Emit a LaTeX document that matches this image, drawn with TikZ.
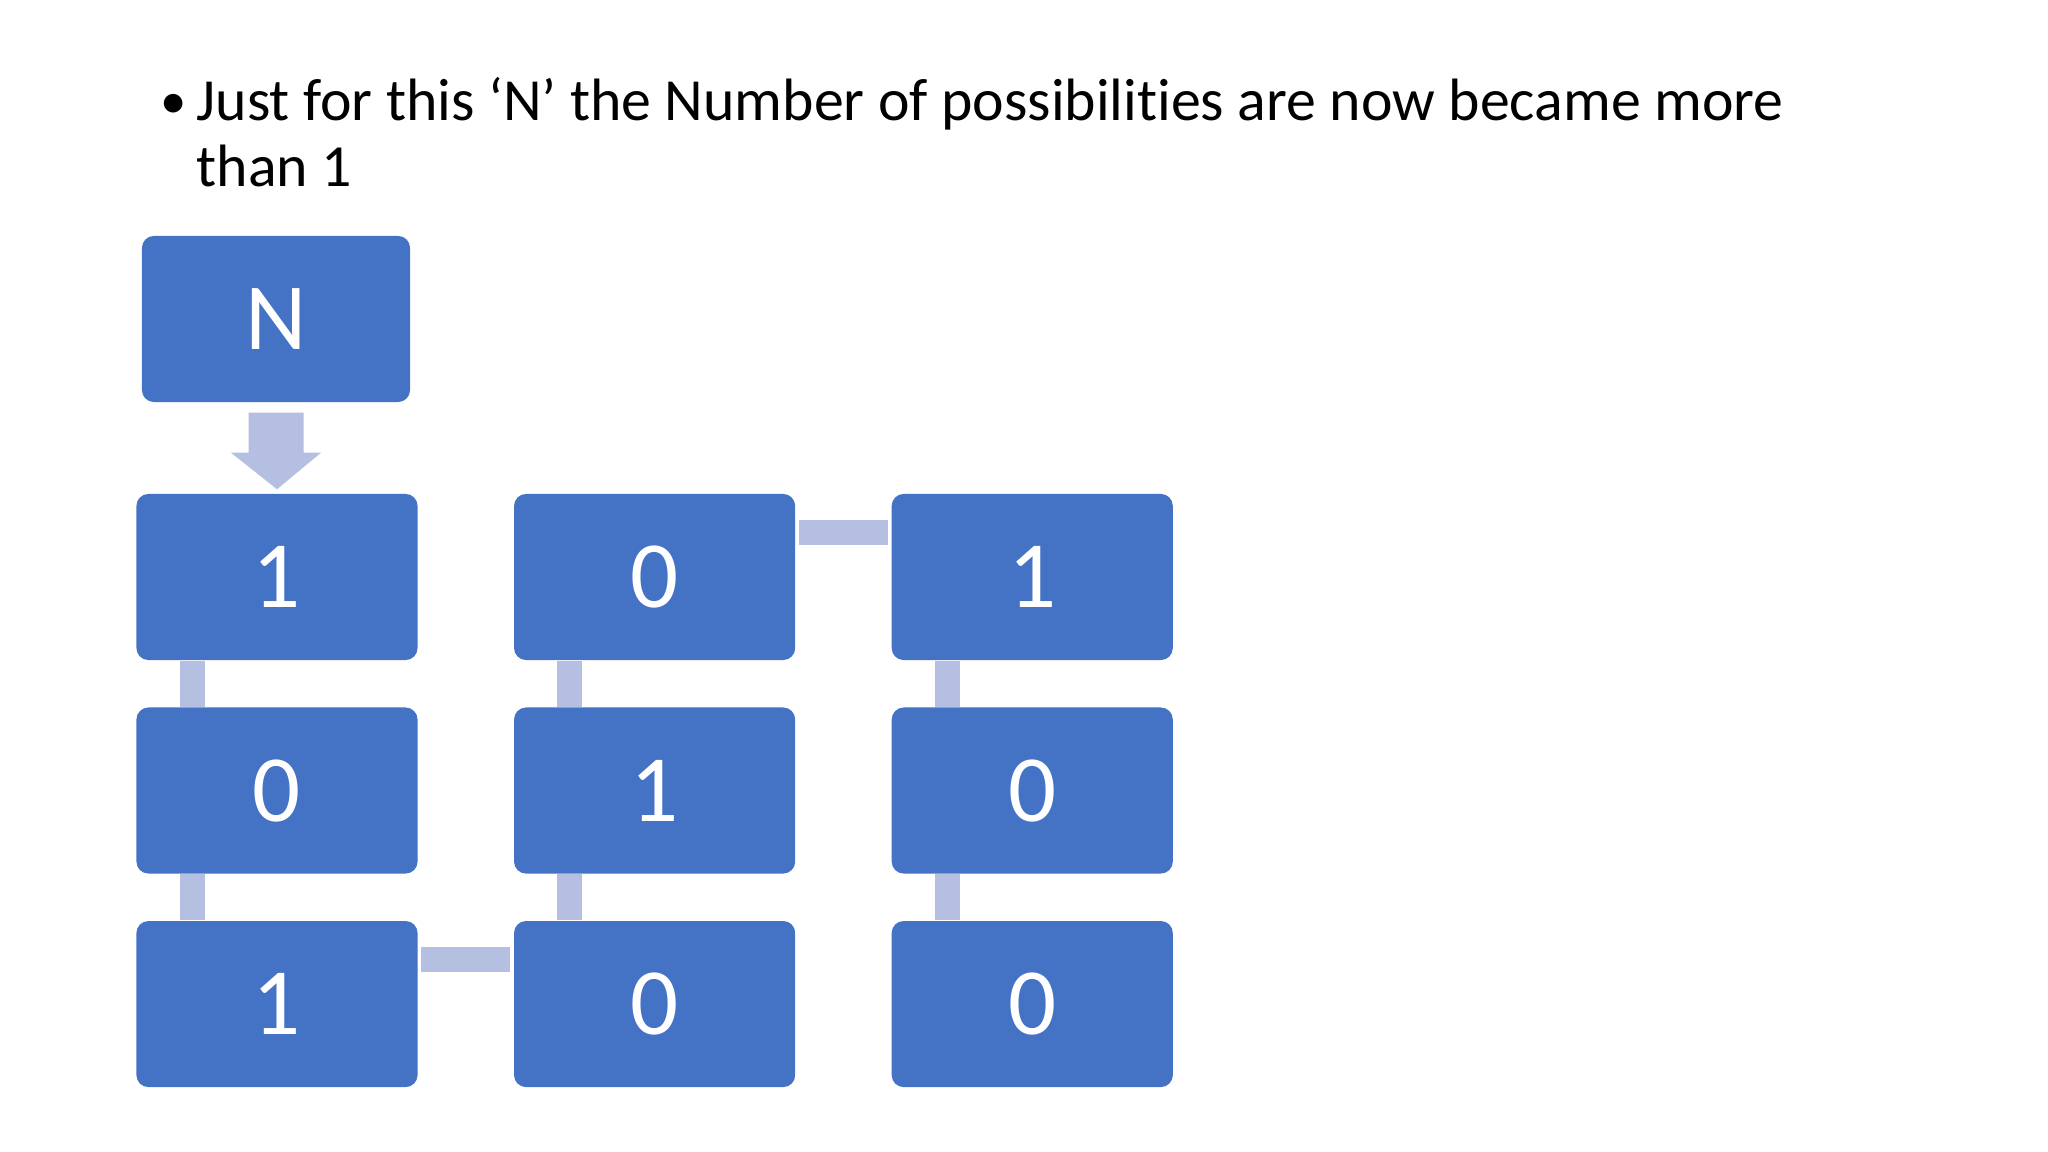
\documentclass[tikz,border=0pt]{standalone}
\usepackage{fontspec}
\setmainfont[Ligatures=NoCommon]{Carlito}
\usetikzlibrary{positioning,calc}
\definecolor{boxblue}{HTML}{4472C4}
\definecolor{linkblue}{HTML}{B4BFE1}
\tikzset{
% Blue digit boxes and the pale bars that join them
digit box/.style={rectangle,rounded corners=0.12cm,fill=boxblue,text=white,minimum width=2.81cm,minimum height=1.66cm,inner sep=0,font=\fontsize{27}{32}\selectfont},
link bar/.style={draw=linkblue,line width=0.25cm}
}

\begin{document}
\begin{tikzpicture}[x=0.01cm,y=-0.01cm]
\useasboundingbox (0,0) rectangle (2048,1152);
% Bullet line
\node(bullet)[anchor=base west,inner sep=0,font=\fontsize{15}{18.8}\selectfont] at (160,119) {\textbullet};
\node(title)[anchor=base west,align=left,inner sep=0,font=\fontsize{17}{18.8}\selectfont] at (196,187) {Just for this ‘N’ the Number of possibilities are now became more\\than 1};
% The boxes
\node(0)[digit box,minimum width=2.68cm] at (276,319) {N};
\node(1)[digit box] at (277,577) {1};
\node(2)[digit box,below=0.46cm of 1] {0};
\node(3)[digit box,below=0.46cm of 2] {1};
\node(4)[digit box,right=0.95cm of 1] {0};
\node(5)[digit box,below=0.46cm of 4] {1};
\node(6)[digit box,below=0.46cm of 5] {0};
\node(7)[digit box,right=0.95cm of 4] {1};
\node(8)[digit box,below=0.46cm of 7] {0};
\node(9)[digit box,below=0.46cm of 8] {0};
% Arrow from N
\fill[linkblue] ($(0.south)+(-27.5,10)$) -- ($(0.south)+(27.5,10)$) -- ($(0.south)+(27.5,50)$)
  -- ($(0.south)+(45,50)$) -- ($(1.north)+(0,-4)$) -- ($(0.south)+(-45,50)$)
  -- ($(0.south)+(-27.5,50)$) -- cycle;
% Bars
\foreach \a/\b in {1/2,2/3,4/5,5/6,7/8,8/9}
  \draw[link bar] ([xshift=0.565cm]\a.south west) -- ([xshift=0.565cm]\b.north west);
\draw[link bar] ([yshift=-0.39cm,xshift=0.03cm]3.north east) -- ([yshift=-0.39cm,xshift=-0.03cm]6.north west);
\draw[link bar] ([yshift=-0.39cm,xshift=0.03cm]4.north east) -- ([yshift=-0.39cm,xshift=-0.03cm]7.north west);
\end{tikzpicture}
\end{document}
